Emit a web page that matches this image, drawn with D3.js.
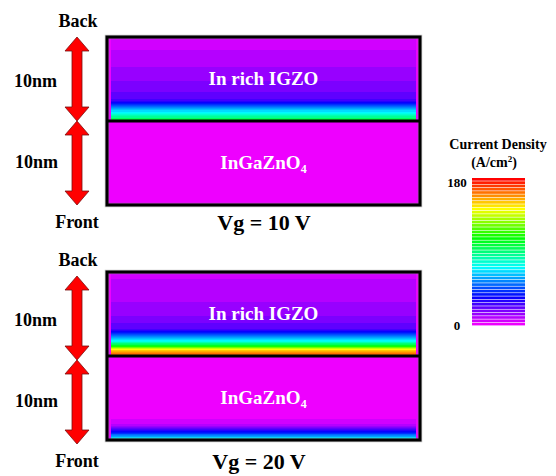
<!DOCTYPE html>
<html>
<head>
<meta charset="utf-8">
<script src="https://cdn.jsdelivr.net/npm/d3@7"></script>
<style>
body { margin: 0; background: #fff; }
text { font-family: "Liberation Serif", "Times New Roman", serif; font-weight: bold; }
</style>
</head>
<body>
<div class="content"></div>
<script>
var size = {width: 556, height: 476};

// one panel per gate voltage
var gateLabels = ["Vg = 10 V", "Vg = 20 V"];
var backLayerName = "In rich IGZO";
var frontLayerName = "InGaZnO";   // subscript 4 added below
var sideLabels = ["Back", "10nm", "10nm", "Front"];

// current density (A/cm2) against depth (nm, 0 = front, 20 = back)
var back10Depth   = [10, 10.4, 11, 11.7, 12.2, 12.5, 13, 14, 16, 18, 20];
var back10Current = [112, 90, 72, 54, 36, 25, 22, 18, 13, 9, 5];
var front10Depth   = [0, 10];
var front10Current = [0, 0];

var back20Depth   = [10, 10.05, 10.2, 10.5, 10.85, 11.2, 11.8, 12.4, 12.9, 13.3, 15, 17, 20];
var back20Current = [172, 168, 164, 158, 140, 108, 72, 54, 36, 23, 15, 11, 7];
var front20Depth   = [0, 0.1, 0.3, 0.6, 1.0, 1.3, 1.6, 2.0, 2.5, 4, 10];
var front20Current = [72, 72, 68, 54, 36, 24, 15, 8, 4, 0, 0];

var colorTicks = [0, 180];
var nLevels = 45;

var panels = [
    {label: gateLabels[0], top: 37,  shift: 0, labelX: 264,
     back: [back10Depth, back10Current], front: [front10Depth, front10Current]},
    {label: gateLabels[1], top: 272, shift: 4, labelX: 259,
     back: [back20Depth, back20Current], front: [front20Depth, front20Current]}
];
var box = {left: 107, right: 420, height: 168, inset: 4};

var levelColors = d3.range(nLevels).map(function(i) {
    return d3.hsl(296 * (1 - i / (nLevels - 1)), 1, 0.5).toString();
});
var color = d3.scaleQuantize().domain(colorTicks).range(levelColors);

var chart = d3.select('.content')
    .append('svg')
    .attr('width', size.width)
    .attr('height', size.height);

chart.append('rect')
    .attr('width', size.width)
    .attr('height', size.height)
    .attr('fill', '#fff');

function arrowPath(cx, y1, y2) {
    var hw = 12, hl = 14, sw = 5;
    return "M" + cx + "," + y1 +
        "L" + (cx + hw) + "," + (y1 + hl) +
        "L" + (cx + sw) + "," + (y1 + hl) +
        "L" + (cx + sw) + "," + (y2 - hl) +
        "L" + (cx + hw) + "," + (y2 - hl) +
        "L" + cx + "," + y2 +
        "L" + (cx - hw) + "," + (y2 - hl) +
        "L" + (cx - sw) + "," + (y2 - hl) +
        "L" + (cx - sw) + "," + (y1 + hl) +
        "L" + (cx - hw) + "," + (y1 + hl) + "Z";
}

panels.forEach(function(p) {
    var y = d3.scaleLinear().domain([0, 20]).range([p.top + box.height, p.top]);
    var g = chart.append('g');

    // background = lowest level
    g.append('rect')
        .attr('x', box.left).attr('y', p.top)
        .attr('width', box.right - box.left).attr('height', box.height)
        .attr('fill', color(0));

    var step = 0.05;
    [p.front, p.back].forEach(function(layer, li) {
        var prof = d3.scaleLinear().domain(layer[0]).range(layer[1]).clamp(true);
        var lo = li * 10;
        var rows = d3.range(lo, lo + 10 - 1e-6, step).map(function(d) {
            return {d: d, v: prof(d + step / 2)};
        });
        g.selectAll(null).data(rows).enter().append('rect')
            .attr('x', box.left + box.inset)
            .attr('width', box.right - box.left - 2 * box.inset)
            .attr('y', function(r) { return y(r.d + step); })
            .attr('height', function(r) { return y(r.d) - y(r.d + step) + 0.3; })
            .attr('fill', function(r) { return color(r.v); })
            .attr('shape-rendering', 'crispEdges');
    });

    // layer names
    var cx = (box.left + box.right) / 2;
    g.append('text')
        .attr('x', cx).attr('y', y(15) + 6)
        .attr('text-anchor', 'middle')
        .attr('fill', '#fff')
        .attr('font-size', 19)
        .text(backLayerName);
    var t = g.append('text')
        .attr('x', cx).attr('y', y(5) + 6)
        .attr('text-anchor', 'middle')
        .attr('fill', '#fff')
        .attr('font-size', 19);
    t.append('tspan').text(frontLayerName);
    t.append('tspan').attr('font-size', 12).attr('dy', 4).text("4");

    // border and interface line
    g.append('rect')
        .attr('x', box.left).attr('y', p.top)
        .attr('width', box.right - box.left).attr('height', box.height)
        .attr('fill', 'none')
        .attr('stroke', '#888').attr('stroke-width', 4.5).attr('stroke-opacity', 0.5);
    g.append('rect')
        .attr('x', box.left).attr('y', p.top)
        .attr('width', box.right - box.left).attr('height', box.height)
        .attr('fill', 'none')
        .attr('stroke', '#000').attr('stroke-width', 3);
    g.append('line')
        .attr('x1', box.left).attr('x2', box.right)
        .attr('y1', y(10)).attr('y2', y(10))
        .attr('stroke', '#000').attr('stroke-width', 3);

    // thickness arrows
    var s = p.shift;
    [[20, 10], [10, 0]].forEach(function(a) {
        g.append('path')
            .attr('d', arrowPath(77, y(a[0]) + s, y(a[1]) + s))
            .attr('fill', '#ff0000')
            .attr('stroke', '#7a1010')
            .attr('stroke-width', 0.8);
    });

    g.append('text').attr('x', 78).attr('y', y(20) - 10 + s)
        .attr('text-anchor', 'middle').attr('font-size', 18).text(sideLabels[0]);
    g.append('text').attr('x', 14).attr('y', y(15) + 8 + s)
        .attr('font-size', 18).text(sideLabels[1]);
    g.append('text').attr('x', 15).attr('y', y(5) + 5 + s)
        .attr('font-size', 18).text(sideLabels[2]);
    g.append('text').attr('x', 77).attr('y', y(0) + 23 + s)
        .attr('text-anchor', 'middle').attr('font-size', 18).text(sideLabels[3]);

    g.append('text').attr('x', p.labelX).attr('y', y(0) + 25 + s)
        .attr('text-anchor', 'middle').attr('font-size', 22).text(p.label);
});

// colour bar
var cbar = {x: 472, width: 53};
var cy = d3.scaleLinear().domain(colorTicks).range([326, 178]);
var bandStep = (colorTicks[1] - colorTicks[0]) / nLevels;
var legend = chart.append('g');
legend.selectAll(null).data(levelColors).enter().append('rect')
    .attr('x', cbar.x)
    .attr('width', cbar.width)
    .attr('y', function(c, i) { return cy((i + 1) * bandStep); })
    .attr('height', function(c, i) { return cy(i * bandStep) - cy((i + 1) * bandStep) - 0.6; })
    .attr('fill', function(c) { return c; });

legend.append('text').attr('x', 498).attr('y', 149)
    .attr('text-anchor', 'middle').attr('font-size', 14).text("Current Density");
var unit = legend.append('text').attr('x', 494).attr('y', 167)
    .attr('text-anchor', 'middle').attr('font-size', 14);
unit.append('tspan').text("(A/cm");
unit.append('tspan').attr('font-size', 9).attr('dy', -5).text("2");
unit.append('tspan').attr('dy', 5).text(")");

legend.selectAll('.tick').data(colorTicks).enter().append('text')
    .attr('class', 'tick')
    .attr('x', 457)
    .attr('y', function(d, i) { return cy(d) + (i === 0 ? 4 : 9); })
    .attr('text-anchor', 'middle')
    .attr('font-size', 13)
    .text(function(d) { return d; });
</script>
</body>
</html>
